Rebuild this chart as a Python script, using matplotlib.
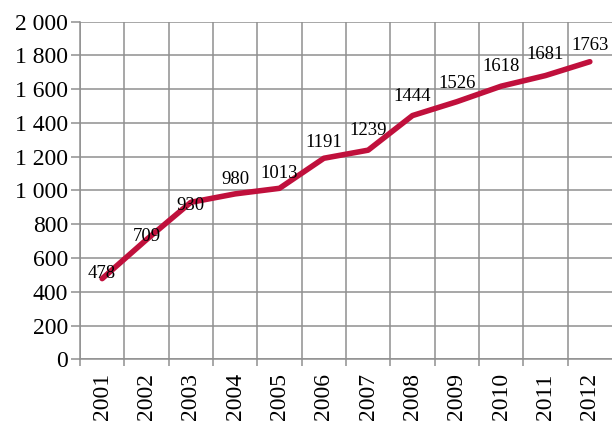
import numpy as np
import matplotlib
matplotlib.use("Agg")
from matplotlib import pyplot as plt
from matplotlib.ticker import FuncFormatter, FixedLocator

years = ['2001', '2002', '2003', '2004', '2005', '2006',
         '2007', '2008', '2009', '2010', '2011', '2012']
values = [478, 709, 930, 980, 1013, 1191, 1239, 1444, 1526, 1618, 1681, 1763]

# decalage vertical des etiquettes (en points), comme sur l'original
label_dy = [4, 2, -2, 10, 11, 11, 14, 14, 13, 14, 15, 12]

plt.rcParams['font.family'] = ['Liberation Serif', 'DejaVu Serif']

fig = plt.figure(figsize=(6.12, 4.21), dpi=100)
ax = fig.add_axes([80 / 612, (421 - 359.3) / 421, 1 - 80 / 612, 337.6 / 421])

x = np.arange(len(years))
ax.plot(x, values, color='#C0103C', lw=4, solid_capstyle='round', zorder=3)

for xi, v, dy in zip(x, values, label_dy):
    ax.annotate(str(v), (xi, v), xytext=(0, dy), textcoords='offset points',
                ha='center', va='center', fontsize=13.5, zorder=4)

ax.set_xlim(-0.5, len(years) - 0.5)
ax.set_ylim(0, 2000)
ax.set_yticks(np.arange(0, 2001, 200))
ax.yaxis.set_major_formatter(FuncFormatter(lambda v, p: f"{int(v):,}".replace(",", " ")))

ax.set_xticks(x)
ax.set_xticklabels(years, rotation=90)
ax.xaxis.set_minor_locator(FixedLocator(np.arange(-0.5, len(years) - 0.9, 1)))

gc = '#909090'
ax.grid(True, which='major', axis='y', color=gc, lw=1.1)
ax.grid(True, which='minor', axis='x', color=gc, lw=1.1)
ax.tick_params(axis='x', which='major', length=0, labelsize=17, pad=10)
ax.tick_params(axis='x', which='minor', length=5, color=gc, width=1.1)
ax.tick_params(axis='y', length=6.5, color=gc, width=1.1, labelsize=17, pad=2)
ax.set_axisbelow(True)

for s in ['top', 'right']:
    ax.spines[s].set_visible(False)
for s in ['left', 'bottom']:
    ax.spines[s].set_color(gc)
    ax.spines[s].set_linewidth(1.1)

fig.savefig('out.png', dpi=100)
